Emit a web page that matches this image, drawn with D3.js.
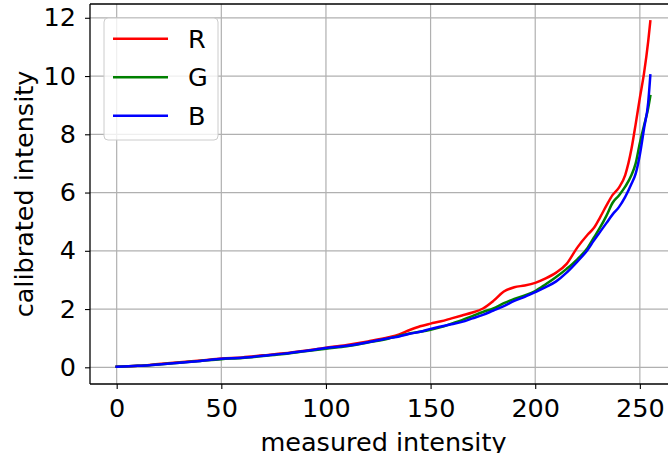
<!DOCTYPE html>
<html>
<head>
<meta charset="utf-8">
<script src="https://cdn.jsdelivr.net/npm/d3@7"></script>
<style>
  body { margin: 0; background: #fff; }
  svg { display: block; font-family: "DejaVu Sans", sans-serif; }
</style>
</head>
<body>
<svg id="chart" width="668" height="453"></svg>
<script>
// measured intensity samples (shared by all channels)
var measured = [0, 10, 20, 30, 40, 50, 60, 70, 80, 90, 100, 110, 120, 130,
  135, 140, 145, 150, 155, 160, 165, 170, 175, 180, 185, 190, 195, 200, 205, 210, 215, 220, 225,
  228, 231, 234, 237, 240, 243, 246, 248, 250, 252, 254, 255];

var redValues = [0.02, 0.05, 0.11, 0.17, 0.23, 0.30, 0.34, 0.41, 0.48, 0.57, 0.67, 0.77, 0.89, 1.03,
  1.13, 1.28, 1.41, 1.50, 1.58, 1.68, 1.78, 1.88, 2.02, 2.28, 2.60, 2.75, 2.81, 2.90, 3.05, 3.25, 3.55, 4.10, 4.55,
  4.78, 5.15, 5.55, 5.92, 6.17, 6.60, 7.50, 8.35, 9.25, 10.10, 11.20, 11.88];

var greenValues = [0.02, 0.05, 0.10, 0.16, 0.22, 0.28, 0.32, 0.39, 0.46, 0.55, 0.64, 0.72, 0.85, 0.99,
  1.08, 1.16, 1.22, 1.29, 1.38, 1.50, 1.62, 1.76, 1.90, 2.02, 2.20, 2.35, 2.47, 2.62, 2.85, 3.10, 3.38, 3.70, 4.10,
  4.45, 4.80, 5.20, 5.65, 5.90, 6.20, 6.60, 7.00, 7.70, 8.30, 8.90, 9.31];

var blueValues = [0.02, 0.05, 0.10, 0.16, 0.22, 0.29, 0.33, 0.40, 0.47, 0.56, 0.66, 0.74, 0.86, 1.00,
  1.06, 1.15, 1.22, 1.32, 1.40, 1.48, 1.56, 1.68, 1.80, 1.95, 2.10, 2.28, 2.42, 2.58, 2.75, 2.95, 3.25, 3.62, 4.03,
  4.35, 4.65, 4.95, 5.25, 5.50, 5.85, 6.30, 6.65, 7.30, 8.20, 9.10, 10.02];

var channelNames = ['R', 'G', 'B'];
var channelColors = ['#ff0000', '#008000', '#0000ff'];
var xTicks = [0, 50, 100, 150, 200, 250];
var yTicks = [0, 2, 4, 6, 8, 10, 12];

var svg = d3.select('#chart');
// plot area (right edge runs past the 668px window, like the reference)
var plot = { left: 90, top: 4, right: 677, bottom: 384 };
var FONT = 25.5;

var x = d3.scaleLinear().domain([-12.75, 267.75]).range([plot.left, plot.right]);
var y = d3.scaleLinear().domain([-0.573, 12.473]).range([plot.bottom, plot.top]);

// grid
var grid = svg.append('g');
grid.selectAll('line.gx').data(xTicks).enter().append('line')
  .attr('x1', d => x(d)).attr('x2', d => x(d))
  .attr('y1', plot.top).attr('y2', plot.bottom)
  .attr('stroke', '#b0b0b0').attr('stroke-width', 1.2);
grid.selectAll('line.gy').data(yTicks).enter().append('line')
  .attr('x1', plot.left).attr('x2', plot.right)
  .attr('y1', d => y(d)).attr('y2', d => y(d))
  .attr('stroke', '#b0b0b0').attr('stroke-width', 1.2);

// series
var series = [redValues, greenValues, blueValues].map((vals, i) => {
  return {
    name: channelNames[i],
    color: channelColors[i],
    points: measured.map((m, j) => [m, vals[j]])
  };
});

var line = d3.line()
  .x(d => x(d[0]))
  .y(d => y(d[1]))
  .curve(d3.curveMonotoneX);

svg.append('g').selectAll('path')
  .data(series)
  .enter()
  .append('path')
  .attr('d', d => line(d.points))
  .attr('fill', 'none')
  .attr('stroke', d => d.color)
  .attr('stroke-width', 2.5)
  .attr('stroke-linejoin', 'round')
  .attr('stroke-linecap', 'square');

// axes
var xAxis = svg.append('g')
  .attr('transform', `translate(0,${plot.bottom})`)
  .call(d3.axisBottom(x).tickValues(xTicks).tickSize(5).tickPadding(9.6).tickSizeOuter(0));
var yAxis = svg.append('g')
  .attr('transform', `translate(${plot.left},0)`)
  .call(d3.axisLeft(y).tickValues(yTicks).tickSize(5).tickPadding(9).tickSizeOuter(0));

[xAxis, yAxis].forEach(ax => {
  ax.select('.domain').remove();
  ax.selectAll('line').attr('stroke', '#000').attr('stroke-width', 1.1);
  ax.selectAll('text').attr('font-size', FONT).attr('fill', '#000')
    .attr('font-family', '"DejaVu Sans", sans-serif');
});

// spines
svg.append('line').attr('x1', plot.left).attr('x2', plot.left).attr('y1', plot.top).attr('y2', plot.bottom)
  .attr('stroke', '#000').attr('stroke-width', 1.3);
svg.append('line').attr('x1', plot.left).attr('x2', plot.right).attr('y1', plot.bottom).attr('y2', plot.bottom)
  .attr('stroke', '#000').attr('stroke-width', 1.3);
svg.append('line').attr('x1', plot.left).attr('x2', plot.right).attr('y1', plot.top).attr('y2', plot.top)
  .attr('stroke', '#000').attr('stroke-width', 1.3);

// axis labels
svg.append('text')
  .attr('x', (plot.left + plot.right) / 2)
  .attr('y', 451)
  .attr('text-anchor', 'middle')
  .attr('font-size', FONT)
  .text('measured intensity');

svg.append('text')
  .attr('transform', `translate(33,${(plot.top + plot.bottom) / 2}) rotate(-90)`)
  .attr('text-anchor', 'middle')
  .attr('font-size', FONT)
  .text('calibrated intensity');

// legend
var legend = svg.append('g');
legend.append('rect')
  .attr('x', 104).attr('y', 18).attr('width', 114).attr('height', 122)
  .attr('rx', 4)
  .attr('fill', '#fff').attr('fill-opacity', 0.8)
  .attr('stroke', '#cccccc').attr('stroke-width', 1);

var items = legend.selectAll('g.item')
  .data(series)
  .enter()
  .append('g')
  .attr('transform', (d, i) => `translate(0,${38.7 + i * 38.5})`);
items.append('line')
  .attr('x1', 113).attr('x2', 168)
  .attr('stroke', d => d.color).attr('stroke-width', 2.5);
items.append('text')
  .attr('x', 188).attr('dy', '0.36em')
  .attr('font-size', FONT)
  .text(d => d.name);
</script>
</body>
</html>
